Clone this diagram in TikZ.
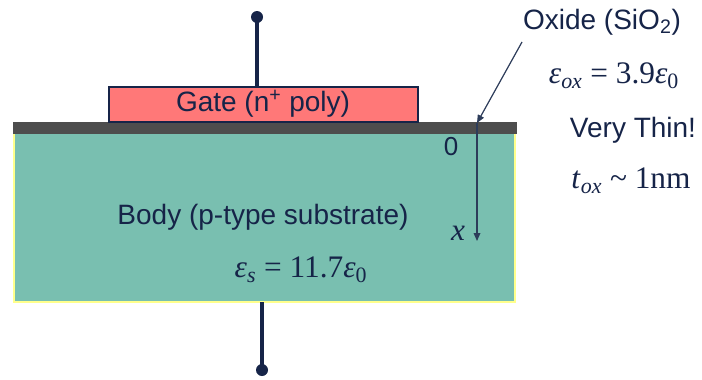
\documentclass[tikz,border=0pt]{standalone}
\usepackage{fontspec}
\setmainfont{Liberation Sans}
\newfontfamily\timesfont{Liberation Serif}
\usetikzlibrary{arrows.meta}
\definecolor{bodyteal}{RGB}{121,191,176}
\definecolor{edgeyellow}{RGB}{255,255,140}
\definecolor{oxidegray}{RGB}{77,77,77}
\definecolor{gatepink}{RGB}{255,120,120}
\definecolor{inkblue}{RGB}{22,36,72}
\definecolor{pointer}{RGB}{45,60,90}
\newcommand{\epsof}[1]{\textit{ε}\textsubscript{\textit{#1}}}

\begin{document}
\begin{tikzpicture}[x=0.75pt, y=-0.75pt, line width=0.8pt,
    lbl/.style={font=\fontsize{21}{24}\selectfont, text=inkblue, inner sep=0pt},
    eqn/.style={font=\timesfont\fontsize{23.5}{26}\selectfont, text=inkblue, inner sep=0pt},
    stem/.style={draw=inkblue, line width=3pt},
    pin/.style={fill=inkblue}]
      \useasboundingbox (0,0) rectangle (702,379);
      % substrate, oxide and gate
      \draw[fill=bodyteal, draw=edgeyellow, line width=1pt] (14,133) rectangle (515,302);
      \fill[oxidegray] (13,122) rectangle (517,134);
      \draw[fill=gatepink, draw=inkblue, line width=1pt] (109,87) rectangle (418,122);
      % terminals
      \coordinate (gtop) at (257,87);
      \coordinate (gpin) at (257,17);
      \coordinate (bbot) at (262,302);
      \coordinate (bpin) at (262,370);
      \draw[stem] (gpin) -- (gtop);
      \draw[stem] (bbot) -- (bpin);
      \fill[pin] (gpin) circle (6);
      \fill[pin] (bpin) circle (6);
      % labels in the stack
      \node[lbl] (gate) at (263,104) {Gate (n\textsuperscript{+} poly)};
      \node[lbl] (body) at (263,217) {Body (p-type substrate)};
      \node[eqn] (epss) at (301,270) {\epsof{s} = 11.7\textit{ε}\textsubscript{0}};
      % depth axis
      \coordinate (xtop) at (477,123);
      \coordinate (xend) at (477,241);
      \draw[pointer, line width=0.9pt, -{Triangle[length=6pt, width=5pt]}] (xtop) -- (xend);
      \node[lbl, font=\fontsize{19.5}{22}\selectfont] (zero) at (451,147) {0};
      \node[eqn] (xlbl) at (458,233) {\textit{x}};
      % oxide notes
      \node[lbl] (oxide) at (602,22) {Oxide (SiO\textsubscript{2})};
      \node[eqn] (epsox) at (614,76) {\epsof{ox} = 3.9\textit{ε}\textsubscript{0}};
      \node[lbl] (thin) at (633,130) {Very Thin!};
      \node[eqn] (tox) at (631,181) {\textit{t}\textsubscript{\textit{ox}} \textasciitilde{} 1nm};
      \coordinate (ptail) at (522,42);
      \draw[pointer, line width=0.9pt, -{Triangle[length=6pt, width=5pt]}] (ptail) -- (xtop);
    \end{tikzpicture}
\end{document}
